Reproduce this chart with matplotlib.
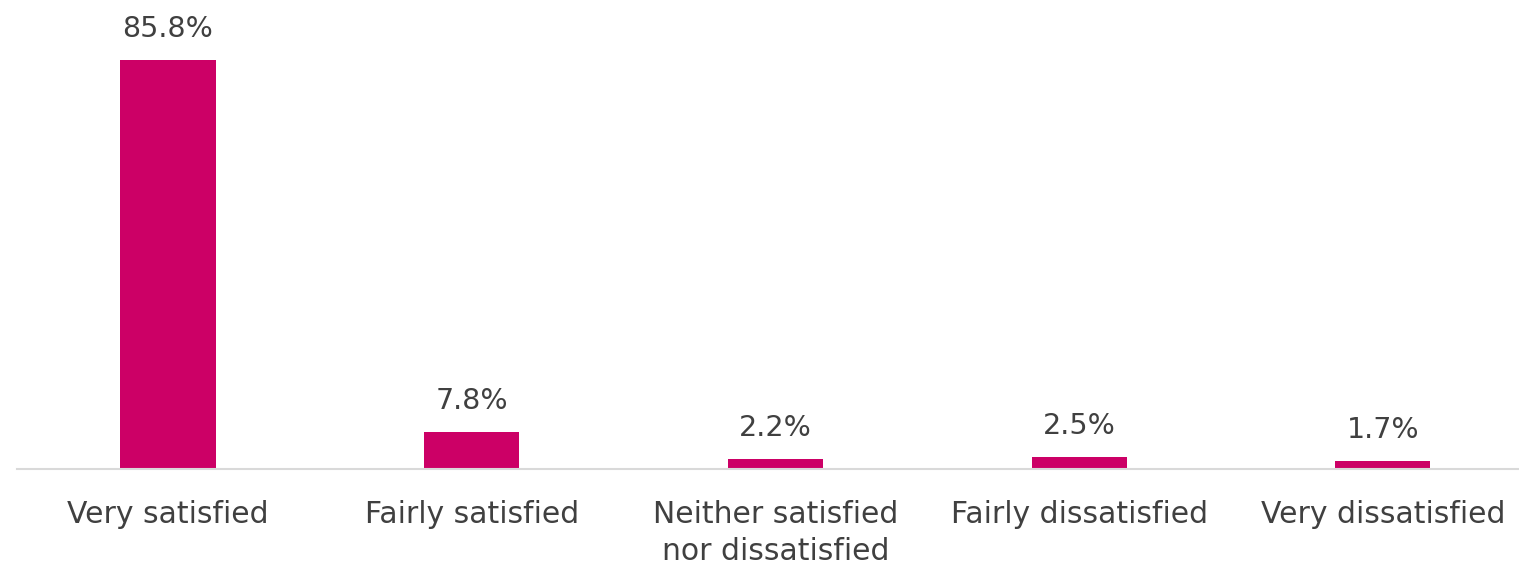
import matplotlib.pyplot as plt

categories = ["Very satisfied", "Fairly satisfied", "Neither satisfied\nnor dissatisfied",
              "Fairly dissatisfied", "Very dissatisfied"]
values = [85.8, 7.8, 2.2, 2.5, 1.7]
value_labels = ["85.8%", "7.8%", "2.2%", "2.5%", "1.7%"]

bar_color = "#CC0066"
text_color = "#404040"

plt.rcParams['font.family'] = ['DejaVu Sans']

fig = plt.figure(figsize=(15.19, 5.68), dpi=100)
ax = fig.add_axes([0.0112, 0.1743, 0.9888, 0.8257])

x = list(range(len(categories)))
bars = ax.bar(x, values, width=0.313, color=bar_color)

for rect, lab in zip(bars, value_labels):
    ax.annotate(lab, (rect.get_x() + rect.get_width() / 2, rect.get_height()),
                xytext=(0, 12), textcoords="offset points",
                ha="center", va="bottom", fontsize=20.5, color=text_color)

ax.set_xlim(-0.497, 4.448)
ax.set_ylim(0, 98.4)
ax.set_xticks(x)
ax.set_xticklabels(categories, fontsize=21.5, color=text_color, linespacing=1.35)
ax.tick_params(axis="x", length=0, pad=22)
ax.set_yticks([])

for side in ["top", "right", "left"]:
    ax.spines[side].set_visible(False)
ax.spines["bottom"].set_color("#D9D9D9")
ax.spines["bottom"].set_linewidth(1.5)

fig.savefig("out.png", dpi=100)
